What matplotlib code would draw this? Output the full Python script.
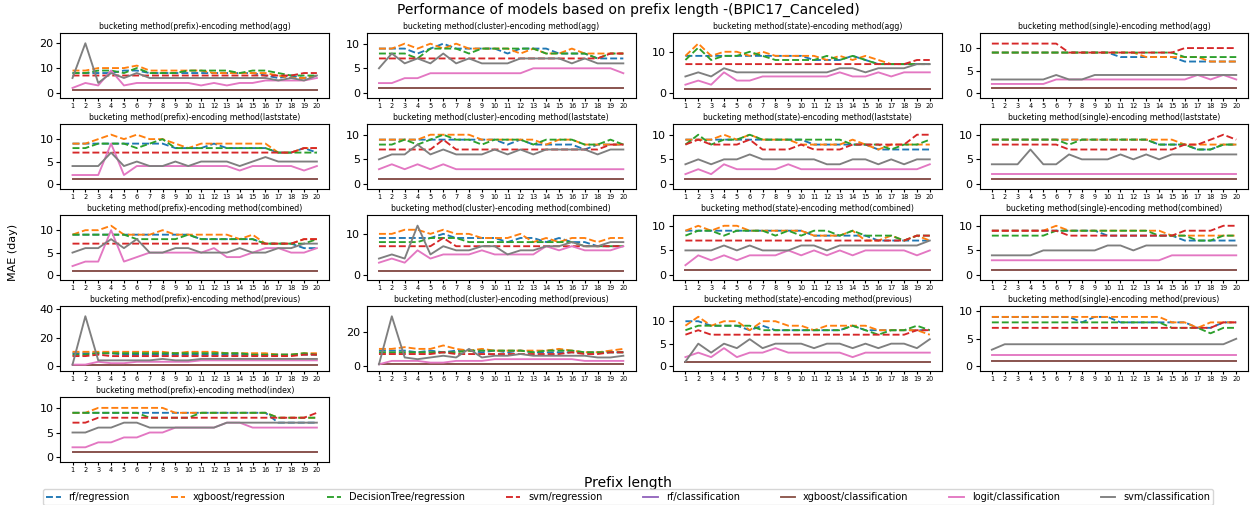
import matplotlib
matplotlib.use('Agg')
import matplotlib.pyplot as plt
from matplotlib.ticker import MaxNLocator

prefix_len = list(range(1, 21))
models = ['rf/regression', 'xgboost/regression', 'DecisionTree/regression', 'svm/regression',
          'rf/classification', 'xgboost/classification', 'logit/classification', 'svm/classification']

# rf and xgboost classifiers sit at 1 everywhere
rf_cls = [1, 1, 1, 1, 1, 1, 1, 1, 1, 1, 1, 1, 1, 1, 1, 1, 1, 1, 1, 1]
xgb_cls = [1, 1, 1, 1, 1, 1, 1, 1, 1, 1, 1, 1, 1, 1, 1, 1, 1, 1, 1, 1]

# order: rf/reg, xgb/reg, dt/reg, svm/reg, rf/cls, xgb/cls, logit/cls, svm/cls
prefix_agg = [
    [8, 8, 8, 8, 9, 9, 8, 8, 8, 8, 8, 8, 8, 8, 8, 7, 6, 7, 6, 7],
    [9, 9, 10, 10, 10, 11, 9, 9, 9, 9, 9, 8, 8, 8, 8, 8, 7, 6, 6, 7],
    [8, 8, 9, 9, 8, 10, 8, 8, 8, 9, 9, 9, 9, 8, 9, 9, 8, 7, 7, 7],
    [7, 7, 7, 7, 7, 7, 7, 7, 7, 7, 7, 7, 7, 7, 7, 7, 7, 7, 8, 8],
    rf_cls, xgb_cls,
    [2, 4, 3, 9, 3, 4, 4, 4, 4, 4, 3, 4, 3, 4, 4, 5, 5, 5, 5, 6],
    [6, 20, 4, 8, 6, 8, 6, 6, 6, 6, 6, 6, 6, 6, 6, 6, 5, 6, 5, 7],
]
cluster_agg = [
    [9, 9, 9, 8, 9, 10, 9, 9, 9, 9, 8, 9, 9, 9, 8, 8, 8, 7, 7, 7],
    [9, 9, 10, 9, 10, 9, 10, 9, 9, 9, 9, 8, 9, 8, 8, 9, 8, 8, 8, 8],
    [8, 8, 8, 7, 9, 9, 9, 8, 9, 9, 9, 9, 9, 8, 8, 8, 8, 7, 8, 8],
    [7, 7, 7, 7, 7, 7, 7, 7, 7, 7, 7, 7, 7, 7, 7, 7, 7, 7, 8, 8],
    rf_cls, xgb_cls,
    [2, 2, 3, 3, 4, 4, 4, 4, 4, 4, 4, 4, 5, 5, 5, 5, 5, 5, 5, 4],
    [5, 8, 6, 7, 6, 8, 6, 7, 6, 6, 6, 7, 7, 7, 7, 6, 7, 6, 6, 6],
]
state_agg = [
    [9, 9, 9, 9, 9, 9, 9, 9, 9, 9, 8, 8, 8, 9, 8, 7, 7, 7, 7, 7],
    [9, 12, 9, 10, 10, 9, 10, 9, 9, 9, 9, 8, 9, 8, 9, 8, 7, 7, 7, 7],
    [8, 11, 8, 9, 9, 10, 9, 8, 8, 8, 8, 9, 8, 9, 8, 7, 7, 7, 7, 7],
    [7, 7, 7, 7, 7, 7, 7, 7, 7, 7, 7, 7, 7, 7, 7, 7, 7, 7, 8, 8],
    rf_cls, xgb_cls,
    [2, 3, 2, 5, 3, 3, 4, 4, 4, 4, 4, 4, 5, 4, 4, 5, 4, 5, 5, 5],
    [4, 5, 4, 6, 5, 5, 5, 5, 5, 5, 5, 5, 6, 6, 5, 6, 6, 6, 7, 7],
]
single_agg = [
    [9, 9, 9, 9, 9, 9, 9, 9, 9, 9, 8, 8, 8, 8, 8, 7, 7, 7, 7, 7],
    [9, 9, 9, 9, 9, 9, 9, 9, 9, 9, 9, 9, 8, 8, 8, 8, 8, 7, 7, 7],
    [9, 9, 9, 9, 9, 9, 9, 9, 9, 9, 9, 9, 9, 9, 9, 8, 8, 8, 8, 8],
    [11, 11, 11, 11, 11, 11, 9, 9, 9, 9, 9, 9, 9, 9, 9, 10, 10, 10, 10, 10],
    rf_cls, xgb_cls,
    [2, 2, 2, 2, 2, 3, 3, 3, 3, 3, 3, 3, 3, 3, 3, 3, 4, 3, 4, 3],
    [3, 3, 3, 3, 3, 4, 3, 3, 4, 4, 4, 4, 4, 4, 4, 4, 4, 4, 4, 4],
]
prefix_laststate = [
    [9, 9, 9, 9, 9, 9, 9, 9, 8, 8, 8, 9, 8, 8, 8, 8, 7, 7, 8, 7],
    [9, 9, 10, 11, 10, 11, 10, 10, 9, 8, 9, 9, 9, 9, 9, 9, 7, 7, 8, 8],
    [8, 8, 9, 9, 9, 8, 9, 10, 8, 8, 8, 8, 8, 8, 8, 8, 7, 7, 7, 7],
    [7, 7, 7, 7, 7, 7, 7, 7, 7, 7, 7, 7, 7, 7, 7, 7, 7, 7, 8, 8],
    rf_cls, xgb_cls,
    [2, 2, 2, 9, 2, 4, 4, 4, 4, 4, 4, 4, 4, 3, 4, 4, 4, 4, 3, 4],
    [4, 4, 4, 7, 4, 5, 4, 4, 5, 4, 5, 5, 5, 4, 5, 6, 5, 5, 5, 5],
]
cluster_laststate = [
    [9, 9, 9, 9, 9, 9, 9, 9, 9, 9, 8, 9, 8, 8, 8, 8, 7, 8, 8, 8],
    [9, 9, 9, 9, 10, 10, 10, 10, 9, 9, 9, 9, 9, 8, 9, 9, 8, 8, 8, 8],
    [8, 8, 9, 8, 9, 10, 9, 9, 8, 9, 9, 9, 8, 9, 9, 9, 8, 8, 9, 8],
    [7, 7, 7, 7, 7, 9, 7, 7, 7, 7, 7, 7, 7, 7, 7, 7, 7, 7, 8, 8],
    rf_cls, xgb_cls,
    [3, 4, 3, 4, 3, 4, 3, 3, 3, 3, 3, 3, 3, 3, 3, 3, 3, 3, 3, 3],
    [5, 6, 6, 8, 6, 7, 6, 6, 6, 7, 6, 7, 6, 7, 7, 7, 7, 6, 7, 7],
]
state_laststate = [
    [9, 9, 9, 9, 9, 9, 9, 9, 9, 9, 8, 8, 8, 8, 8, 7, 7, 7, 7, 7],
    [9, 9, 9, 10, 9, 10, 9, 9, 9, 8, 8, 8, 8, 9, 8, 7, 8, 8, 8, 8],
    [8, 10, 8, 9, 9, 10, 9, 9, 9, 9, 9, 9, 9, 8, 8, 8, 7, 8, 8, 9],
    [8, 9, 8, 8, 8, 9, 7, 7, 7, 8, 7, 7, 7, 8, 8, 8, 8, 8, 10, 10],
    rf_cls, xgb_cls,
    [2, 3, 2, 4, 3, 3, 3, 3, 4, 3, 3, 3, 3, 3, 3, 3, 3, 3, 3, 4],
    [4, 5, 4, 5, 5, 6, 5, 5, 5, 5, 5, 4, 4, 5, 5, 4, 5, 4, 5, 5],
]
single_laststate = [
    [9, 9, 9, 9, 9, 9, 9, 9, 9, 9, 9, 9, 9, 8, 8, 8, 7, 7, 8, 8],
    [9, 9, 9, 9, 9, 9, 9, 9, 9, 9, 9, 9, 9, 9, 9, 8, 8, 8, 8, 8],
    [9, 9, 9, 9, 9, 9, 8, 9, 9, 9, 9, 9, 9, 8, 8, 8, 7, 7, 8, 8],
    [8, 8, 8, 8, 8, 8, 7, 7, 7, 7, 7, 7, 7, 7, 7, 8, 8, 9, 10, 9],
    rf_cls, xgb_cls,
    [2, 2, 2, 2, 2, 2, 2, 2, 2, 2, 2, 2, 2, 2, 2, 2, 2, 2, 2, 2],
    [4, 4, 4, 7, 4, 4, 6, 5, 5, 5, 6, 5, 6, 5, 6, 6, 6, 6, 6, 6],
]
prefix_combined = [
    [9, 9, 9, 9, 9, 9, 9, 9, 9, 9, 8, 8, 8, 8, 8, 7, 7, 7, 6, 6],
    [9, 10, 10, 11, 9, 9, 9, 10, 9, 9, 9, 9, 9, 8, 9, 7, 7, 7, 8, 8],
    [9, 9, 9, 9, 9, 8, 8, 8, 8, 9, 8, 8, 8, 8, 8, 7, 7, 7, 7, 8],
    [7, 7, 7, 7, 7, 7, 7, 7, 7, 7, 7, 7, 7, 7, 7, 7, 7, 7, 8, 8],
    rf_cls, xgb_cls,
    [2, 3, 3, 10, 3, 4, 5, 5, 5, 5, 5, 6, 4, 4, 5, 6, 6, 5, 5, 6],
    [5, 6, 6, 8, 6, 8, 5, 5, 6, 6, 5, 5, 5, 6, 5, 5, 6, 6, 7, 7],
]
cluster_combined = [
    [9, 9, 9, 9, 9, 10, 9, 9, 9, 9, 8, 9, 9, 8, 9, 8, 8, 7, 7, 7],
    [10, 10, 11, 11, 10, 11, 10, 10, 9, 9, 9, 10, 8, 9, 8, 9, 9, 8, 9, 9],
    [8, 8, 8, 8, 9, 9, 9, 8, 8, 8, 8, 8, 8, 8, 8, 8, 7, 7, 7, 7],
    [7, 7, 7, 7, 7, 9, 7, 7, 7, 7, 7, 7, 7, 7, 7, 7, 7, 7, 7, 7],
    rf_cls, xgb_cls,
    [3, 4, 3, 6, 4, 5, 5, 5, 6, 5, 5, 5, 5, 7, 6, 7, 6, 6, 6, 7],
    [4, 5, 4, 12, 5, 7, 6, 6, 7, 7, 5, 6, 6, 7, 7, 8, 7, 7, 8, 8],
]
state_combined = [
    [9, 9, 9, 9, 9, 9, 9, 9, 9, 9, 8, 8, 8, 8, 8, 7, 7, 7, 7, 7],
    [9, 10, 9, 10, 10, 9, 9, 9, 9, 9, 8, 8, 8, 9, 7, 7, 8, 7, 8, 7],
    [8, 9, 9, 8, 9, 9, 9, 8, 9, 8, 9, 9, 8, 9, 8, 8, 8, 7, 8, 8],
    [7, 7, 7, 7, 7, 7, 7, 7, 7, 7, 7, 7, 7, 7, 7, 7, 7, 7, 8, 8],
    rf_cls, xgb_cls,
    [2, 4, 3, 4, 3, 4, 4, 4, 5, 4, 5, 4, 5, 4, 5, 5, 5, 5, 4, 5],
    [5, 5, 5, 6, 5, 6, 5, 5, 5, 6, 6, 5, 6, 6, 6, 6, 6, 6, 6, 7],
]
single_combined = [
    [9, 9, 9, 9, 9, 9, 9, 9, 9, 8, 8, 8, 8, 8, 8, 7, 7, 7, 7, 7],
    [9, 9, 9, 9, 9, 10, 9, 9, 9, 9, 9, 9, 9, 9, 8, 8, 8, 8, 8, 8],
    [8, 8, 8, 8, 8, 9, 9, 9, 9, 9, 9, 9, 9, 8, 8, 8, 7, 7, 8, 8],
    [9, 9, 9, 9, 9, 9, 8, 8, 8, 8, 8, 8, 8, 8, 8, 9, 9, 9, 10, 10],
    rf_cls, xgb_cls,
    [3, 3, 3, 3, 3, 3, 3, 3, 3, 3, 3, 3, 3, 3, 4, 4, 4, 4, 4, 4],
    [4, 4, 4, 4, 5, 5, 5, 5, 5, 6, 6, 5, 6, 6, 6, 6, 6, 6, 6, 6],
]
prefix_previous = [
    [9, 9, 9, 9, 8, 8, 8, 8, 8, 8, 8, 8, 8, 8, 8, 8, 8, 8, 8, 8],
    [10, 10, 10, 10, 10, 10, 10, 10, 9, 10, 10, 10, 9, 9, 9, 9, 8, 8, 9, 9],
    [8, 8, 9, 9, 9, 9, 9, 9, 9, 9, 9, 9, 9, 9, 8, 8, 8, 8, 9, 8],
    [7, 7, 8, 7, 7, 7, 7, 7, 7, 7, 7, 7, 7, 7, 7, 7, 7, 7, 8, 8],
    rf_cls, xgb_cls,
    [1, 1, 3, 2, 2, 3, 3, 3, 3, 3, 4, 4, 4, 4, 4, 4, 4, 4, 4, 4],
    [1, 35, 4, 4, 4, 4, 4, 5, 4, 4, 5, 5, 5, 5, 5, 5, 5, 5, 5, 5],
]
cluster_previous = [
    [9, 9, 9, 8, 9, 8, 9, 9, 8, 9, 8, 9, 8, 8, 8, 8, 8, 8, 8, 8],
    [10, 10, 11, 10, 10, 12, 10, 9, 10, 9, 9, 9, 9, 9, 10, 9, 8, 8, 9, 10],
    [8, 8, 8, 8, 8, 8, 8, 9, 9, 9, 9, 9, 8, 9, 9, 9, 8, 8, 8, 8],
    [7, 7, 7, 7, 7, 8, 7, 7, 7, 7, 7, 7, 7, 7, 7, 8, 7, 7, 8, 8],
    rf_cls, xgb_cls,
    [1, 3, 3, 3, 2, 2, 3, 3, 3, 4, 4, 4, 4, 4, 4, 4, 3, 3, 3, 3],
    [1, 29, 5, 4, 5, 6, 5, 10, 5, 6, 6, 7, 6, 6, 6, 6, 6, 5, 5, 6],
]
state_previous = [
    [10, 10, 9, 9, 9, 8, 9, 8, 8, 8, 8, 8, 8, 9, 8, 8, 8, 8, 8, 8],
    [9, 11, 9, 10, 10, 8, 10, 10, 9, 9, 8, 9, 9, 9, 9, 8, 8, 8, 8, 7],
    [8, 9, 9, 9, 9, 9, 8, 8, 8, 8, 8, 8, 8, 9, 8, 7, 8, 8, 9, 8],
    [7, 8, 7, 7, 7, 7, 7, 7, 7, 7, 7, 7, 7, 7, 7, 7, 7, 7, 8, 8],
    rf_cls, xgb_cls,
    [2, 3, 2, 4, 2, 3, 3, 4, 3, 3, 3, 3, 3, 2, 3, 3, 3, 3, 3, 3],
    [1, 5, 3, 5, 4, 6, 4, 5, 5, 5, 4, 5, 5, 4, 5, 4, 5, 5, 4, 6],
]
single_previous = [
    [9, 9, 9, 9, 9, 9, 9, 8, 9, 9, 8, 8, 8, 8, 8, 8, 7, 7, 8, 8],
    [9, 9, 9, 9, 9, 9, 9, 9, 9, 9, 9, 9, 9, 9, 8, 8, 7, 8, 8, 8],
    [8, 8, 8, 8, 8, 8, 8, 8, 8, 8, 8, 8, 8, 8, 7, 7, 7, 6, 7, 7],
    [7, 7, 7, 7, 7, 7, 7, 7, 7, 7, 7, 7, 7, 7, 7, 7, 7, 7, 8, 8],
    rf_cls, xgb_cls,
    [2, 2, 2, 2, 2, 2, 2, 2, 2, 2, 2, 2, 2, 2, 2, 2, 2, 2, 2, 2],
    [3, 4, 4, 4, 4, 4, 4, 4, 4, 4, 4, 4, 4, 4, 4, 4, 4, 4, 4, 5],
]
prefix_index = [
    [9, 9, 9, 9, 9, 9, 9, 9, 9, 9, 9, 9, 9, 9, 9, 9, 7, 7, 7, 7],
    [9, 9, 10, 10, 10, 10, 10, 10, 9, 9, 9, 9, 9, 9, 9, 9, 8, 8, 8, 8],
    [9, 9, 9, 9, 9, 9, 8, 8, 8, 8, 9, 9, 9, 9, 9, 9, 8, 8, 8, 8],
    [7, 7, 8, 8, 8, 8, 8, 8, 8, 8, 8, 8, 8, 8, 8, 8, 8, 8, 8, 9],
    rf_cls, xgb_cls,
    [2, 2, 3, 3, 4, 4, 5, 5, 6, 6, 6, 6, 7, 7, 6, 6, 6, 6, 6, 6],
    [5, 5, 6, 6, 7, 7, 6, 6, 6, 6, 6, 6, 7, 7, 7, 7, 7, 7, 7, 7],
]

panels = [
    ('prefix', 'agg', prefix_agg), ('cluster', 'agg', cluster_agg),
    ('state', 'agg', state_agg), ('single', 'agg', single_agg),
    ('prefix', 'laststate', prefix_laststate), ('cluster', 'laststate', cluster_laststate),
    ('state', 'laststate', state_laststate), ('single', 'laststate', single_laststate),
    ('prefix', 'combined', prefix_combined), ('cluster', 'combined', cluster_combined),
    ('state', 'combined', state_combined), ('single', 'combined', single_combined),
    ('prefix', 'previous', prefix_previous), ('cluster', 'previous', cluster_previous),
    ('state', 'previous', state_previous), ('single', 'previous', single_previous),
    ('prefix', 'index', prefix_index),
]

colors = ['C0', 'C1', 'C2', 'C3', 'C4', 'C5', 'C6', 'C7']
styles = ['--', '--', '--', '--', '-', '-', '-', '-']

fig, axes = plt.subplots(5, 4, figsize=(12.56, 5.05), dpi=100)
fig.subplots_adjust(left=0.048, right=0.994, top=0.935, bottom=0.085,
                    wspace=0.14, hspace=0.40)

for i, ax in enumerate(axes.flat):
    if i >= len(panels):
        ax.remove()
        continue
    bucket, enc, series = panels[i]
    for vals, c, ls, name in zip(series, colors, styles, models):
        ax.plot(prefix_len, vals, color=c, linestyle=ls, linewidth=1.35, label=name)
    top = max(max(s) for s in series)
    ax.set_ylim(-0.1 * top, 1.2 * top + 0.2)
    ax.yaxis.set_major_locator(MaxNLocator(nbins=3, steps=[1, 2, 5, 10]))
    ax.set_title('bucketing method(%s)-encoding method(%s)' % (bucket, enc), fontsize=5.6, pad=3)
    ax.set_xticks(prefix_len)
    ax.tick_params(axis='x', labelsize=4.7, length=2, pad=1.5)
    ax.tick_params(axis='y', labelsize=8, length=3, pad=2)

fig.suptitle('Performance of models based on prefix length -(BPIC17_Canceled)', fontsize=10, y=0.995)
fig.supxlabel('Prefix length', fontsize=10, y=0.03)
fig.supylabel('MAE (day)', fontsize=8, x=0.006)

handles, labels = axes[0, 0].get_legend_handles_labels()
fig.legend(handles, labels, loc='lower center', ncol=8, fontsize=7,
           bbox_to_anchor=(0.5, -0.01), columnspacing=4.2, handlelength=1.5,
           frameon=True, borderpad=0.3)

plt.savefig('out.png', dpi=100)
